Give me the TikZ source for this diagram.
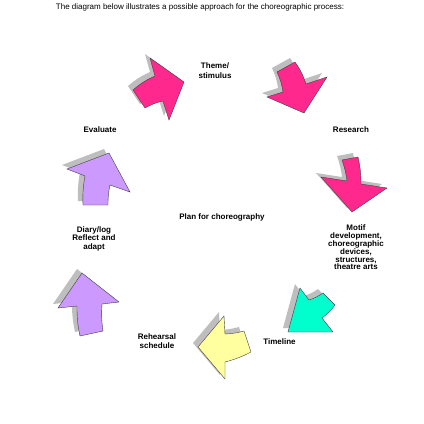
\documentclass[tikz,border=0pt]{standalone}
\usepackage{fontspec}
\setmainfont{Liberation Sans}
\definecolor{cyclepink}{RGB}{255,40,140}
\definecolor{lilac}{RGB}{204,153,255}
\definecolor{lemon}{RGB}{255,255,160}
\definecolor{aqua}{RGB}{0,255,204}
\definecolor{shade}{RGB}{190,190,190}
\tikzset{
  stagelabel/.style={font=\bfseries\fontsize{8}{8.5}\selectfont, align=center, inner sep=0pt},
  titletext/.style={font=\fontsize{8}{9}\selectfont, inner sep=0pt},
  arrowshadow/.style={fill=shade, shift={(-5,-4)}},
  arrowbody/.style={draw=black!75, line width=0.4pt, line join=miter},
}
\newcommand{\cyclearrow}[2]{%
  \fill[arrowshadow] #2 -- cycle;
  \filldraw[arrowbody, fill=#1] #2 -- cycle;}
\begin{document}
\begin{tikzpicture}[x=1pt, y=-1pt]
  \useasboundingbox (0,0) rectangle (424,424);
  \node[titletext] (title) at (200,7.5)
    {The diagram below illustrates a possible approach for the choreographic process:};

  % arrows round the cycle
  \cyclearrow{cyclepink}{(133,90) to[bend left=8] (155,76) -- (150,58) -- (184,82)
    -- (169,120) -- (163,101) to[bend right=8] (145,108)}
  \cyclearrow{cyclepink}{(277,72) -- (295,62) to[bend left=8] (306,84) -- (327,77)
    -- (304,113) -- (267,97) -- (283,92) to[bend right=8] (277,72)}
  \cyclearrow{cyclepink}{(342,160) -- (358,157) to[bend left=6] (361,184) -- (387,188)
    -- (352,212) -- (321,177) -- (347,181) to[bend right=6] (342,160)}
  \cyclearrow{aqua}{(300,288) -- (309,300) to[bend right=8] (323,293) -- (335,305)
    to[bend left=8] (322,318) -- (333,332) -- (288,332)}
  \cyclearrow{lemon}{(198,347) -- (224,316) -- (225,334) to[bend right=6] (244,331)
    -- (251,352) to[bend left=6] (225,362) -- (225,379)}
  \cyclearrow{lilac}{(82,273) -- (119,302) -- (102,304) to[bend right=6] (103,331)
    -- (80,336) to[bend left=6] (77,306) -- (58,308)}
  \cyclearrow{lilac}{(109,153) -- (130,192) -- (110,185) to[bend right=6] (108,205)
    -- (83,205) to[bend left=6] (85,176) -- (67,169)}

  % stage labels
  \node[stagelabel, font=\bfseries\fontsize{8}{10}\selectfont] (theme) at (215,71) {Theme/\\stimulus};
  \node[stagelabel] (research) at (351,130) {Research};
  \node[stagelabel, font=\bfseries\fontsize{8}{7.8}\selectfont] (motif) at (356,247.5)
    {Motif\\development,\\choreographic\\devices,\\structures,\\theatre arts};
  \node[stagelabel] (timeline) at (279.5,342) {Timeline};
  \node[stagelabel, font=\bfseries\fontsize{8}{9}\selectfont] (rehearsal) at (157,341.5) {Rehearsal\\schedule};
  \node[stagelabel] (diary) at (94,238.5) {Diary/log\\Reflect and\\adapt};
  \node[stagelabel] (evaluate) at (100,130) {Evaluate};
  \node[stagelabel] (plan) at (222,217) {Plan for choreography};
\end{tikzpicture}
\end{document}
